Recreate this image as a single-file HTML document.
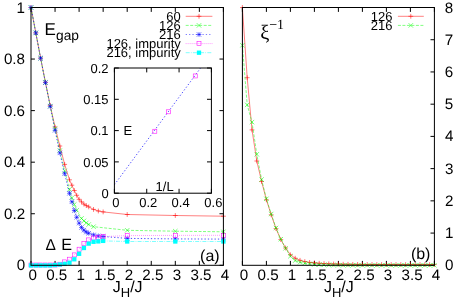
<!DOCTYPE html>
<html><head><meta charset="utf-8"><title>plot</title>
<style>html,body{margin:0;padding:0;background:#fff}svg{display:block}text{fill:#000}</style></head>
<body><svg width="463" height="298" viewBox="0 0 463 298">
<rect width="463" height="298" fill="#fff"/>
<filter id="idf" filterUnits="userSpaceOnUse" x="0" y="0" width="463" height="298"><feOffset dx="0" dy="0"/></filter><g filter="url(#idf)">
<line x1="31" y1="265.3" x2="31" y2="260.9" stroke="#000" stroke-width="1.0"/>
<line x1="31" y1="7.5" x2="31" y2="11.9" stroke="#000" stroke-width="1.0"/>
<line x1="55.05" y1="265.3" x2="55.05" y2="260.9" stroke="#000" stroke-width="1.0"/>
<line x1="55.05" y1="7.5" x2="55.05" y2="11.9" stroke="#000" stroke-width="1.0"/>
<line x1="79.1" y1="265.3" x2="79.1" y2="260.9" stroke="#000" stroke-width="1.0"/>
<line x1="79.1" y1="7.5" x2="79.1" y2="11.9" stroke="#000" stroke-width="1.0"/>
<line x1="103.15" y1="265.3" x2="103.15" y2="260.9" stroke="#000" stroke-width="1.0"/>
<line x1="103.15" y1="7.5" x2="103.15" y2="11.9" stroke="#000" stroke-width="1.0"/>
<line x1="127.2" y1="265.3" x2="127.2" y2="260.9" stroke="#000" stroke-width="1.0"/>
<line x1="127.2" y1="7.5" x2="127.2" y2="11.9" stroke="#000" stroke-width="1.0"/>
<line x1="151.25" y1="265.3" x2="151.25" y2="260.9" stroke="#000" stroke-width="1.0"/>
<line x1="151.25" y1="7.5" x2="151.25" y2="11.9" stroke="#000" stroke-width="1.0"/>
<line x1="175.3" y1="265.3" x2="175.3" y2="260.9" stroke="#000" stroke-width="1.0"/>
<line x1="175.3" y1="7.5" x2="175.3" y2="11.9" stroke="#000" stroke-width="1.0"/>
<line x1="199.35" y1="265.3" x2="199.35" y2="260.9" stroke="#000" stroke-width="1.0"/>
<line x1="199.35" y1="7.5" x2="199.35" y2="11.9" stroke="#000" stroke-width="1.0"/>
<line x1="223.4" y1="265.3" x2="223.4" y2="260.9" stroke="#000" stroke-width="1.0"/>
<line x1="223.4" y1="7.5" x2="223.4" y2="11.9" stroke="#000" stroke-width="1.0"/>
<line x1="31" y1="265.3" x2="34.9" y2="265.3" stroke="#000" stroke-width="1.0"/>
<line x1="223.4" y1="265.3" x2="219.5" y2="265.3" stroke="#000" stroke-width="1.0"/>
<line x1="31" y1="213.74" x2="34.9" y2="213.74" stroke="#000" stroke-width="1.0"/>
<line x1="223.4" y1="213.74" x2="219.5" y2="213.74" stroke="#000" stroke-width="1.0"/>
<line x1="31" y1="162.18" x2="34.9" y2="162.18" stroke="#000" stroke-width="1.0"/>
<line x1="223.4" y1="162.18" x2="219.5" y2="162.18" stroke="#000" stroke-width="1.0"/>
<line x1="31" y1="110.62" x2="34.9" y2="110.62" stroke="#000" stroke-width="1.0"/>
<line x1="223.4" y1="110.62" x2="219.5" y2="110.62" stroke="#000" stroke-width="1.0"/>
<line x1="31" y1="59.06" x2="34.9" y2="59.06" stroke="#000" stroke-width="1.0"/>
<line x1="223.4" y1="59.06" x2="219.5" y2="59.06" stroke="#000" stroke-width="1.0"/>
<line x1="31" y1="7.5" x2="34.9" y2="7.5" stroke="#000" stroke-width="1.0"/>
<line x1="223.4" y1="7.5" x2="219.5" y2="7.5" stroke="#000" stroke-width="1.0"/>
<clipPath id="c1"><rect x="28.0" y="4.5" width="198.4" height="263.8"/></clipPath>
<g clip-path="url(#c1)">
<polyline points="31,7.5 35.81,32.9 40.62,58.1 45.43,82.3 50.24,105.6 55.05,127 59.86,146 64.67,164.4 69.48,179.8 71.88,185.2 74.29,190.5 76.69,195.3 79.1,199.3 81.5,201.9 83.91,204.1 86.31,205.6 88.72,206.9 93.53,209.4 98.34,211 103.15,211.9 127.2,214.5 175.3,215.5 223.4,216.2" fill="none" stroke="#ff0000" stroke-width="0.5"/>
<path d="M28.6 7.5H33.4M31 5.1V9.9" stroke="#ff0000" stroke-width="0.55" fill="none"/>
<path d="M33.41 32.9H38.21M35.81 30.5V35.3" stroke="#ff0000" stroke-width="0.55" fill="none"/>
<path d="M38.22 58.1H43.02M40.62 55.7V60.5" stroke="#ff0000" stroke-width="0.55" fill="none"/>
<path d="M43.03 82.3H47.83M45.43 79.9V84.7" stroke="#ff0000" stroke-width="0.55" fill="none"/>
<path d="M47.84 105.6H52.64M50.24 103.2V108" stroke="#ff0000" stroke-width="0.55" fill="none"/>
<path d="M52.65 127H57.45M55.05 124.6V129.4" stroke="#ff0000" stroke-width="0.55" fill="none"/>
<path d="M57.46 146H62.26M59.86 143.6V148.4" stroke="#ff0000" stroke-width="0.55" fill="none"/>
<path d="M62.27 164.4H67.07M64.67 162V166.8" stroke="#ff0000" stroke-width="0.55" fill="none"/>
<path d="M67.08 179.8H71.88M69.48 177.4V182.2" stroke="#ff0000" stroke-width="0.55" fill="none"/>
<path d="M69.48 185.2H74.28M71.88 182.8V187.6" stroke="#ff0000" stroke-width="0.55" fill="none"/>
<path d="M71.89 190.5H76.69M74.29 188.1V192.9" stroke="#ff0000" stroke-width="0.55" fill="none"/>
<path d="M74.29 195.3H79.09M76.69 192.9V197.7" stroke="#ff0000" stroke-width="0.55" fill="none"/>
<path d="M76.7 199.3H81.5M79.1 196.9V201.7" stroke="#ff0000" stroke-width="0.55" fill="none"/>
<path d="M79.1 201.9H83.91M81.5 199.5V204.3" stroke="#ff0000" stroke-width="0.55" fill="none"/>
<path d="M81.51 204.1H86.31M83.91 201.7V206.5" stroke="#ff0000" stroke-width="0.55" fill="none"/>
<path d="M83.91 205.6H88.72M86.31 203.2V208" stroke="#ff0000" stroke-width="0.55" fill="none"/>
<path d="M86.32 206.9H91.12M88.72 204.5V209.3" stroke="#ff0000" stroke-width="0.55" fill="none"/>
<path d="M91.13 209.4H95.93M93.53 207V211.8" stroke="#ff0000" stroke-width="0.55" fill="none"/>
<path d="M95.94 211H100.74M98.34 208.6V213.4" stroke="#ff0000" stroke-width="0.55" fill="none"/>
<path d="M100.75 211.9H105.55M103.15 209.5V214.3" stroke="#ff0000" stroke-width="0.55" fill="none"/>
<path d="M124.8 214.5H129.6M127.2 212.1V216.9" stroke="#ff0000" stroke-width="0.55" fill="none"/>
<path d="M172.9 215.5H177.7M175.3 213.1V217.9" stroke="#ff0000" stroke-width="0.55" fill="none"/>
<path d="M221 216.2H225.8M223.4 213.8V218.6" stroke="#ff0000" stroke-width="0.55" fill="none"/>
<polyline points="31,7.5 35.81,32.9 40.62,58.2 45.43,82.5 50.24,106.1 55.05,128.7 59.86,150.5 64.67,170.9 69.48,189.3 71.88,197.8 74.29,204.5 76.69,210.3 81.5,218.4 83.91,220.9 86.31,222.9 88.72,224.5 93.53,226.7 127.2,230.3 175.3,231.2 223.4,231.8" fill="none" stroke="#00ff00" stroke-width="0.5" stroke-dasharray="3,1.5"/>
<path d="M28.8 5.3L33.2 9.7M28.8 9.7L33.2 5.3" stroke="#00ff00" stroke-width="0.55" fill="none"/>
<path d="M33.61 30.7L38.01 35.1M33.61 35.1L38.01 30.7" stroke="#00ff00" stroke-width="0.55" fill="none"/>
<path d="M38.42 56L42.82 60.4M38.42 60.4L42.82 56" stroke="#00ff00" stroke-width="0.55" fill="none"/>
<path d="M43.23 80.3L47.63 84.7M43.23 84.7L47.63 80.3" stroke="#00ff00" stroke-width="0.55" fill="none"/>
<path d="M48.04 103.9L52.44 108.3M48.04 108.3L52.44 103.9" stroke="#00ff00" stroke-width="0.55" fill="none"/>
<path d="M52.85 126.5L57.25 130.9M52.85 130.9L57.25 126.5" stroke="#00ff00" stroke-width="0.55" fill="none"/>
<path d="M57.66 148.3L62.06 152.7M57.66 152.7L62.06 148.3" stroke="#00ff00" stroke-width="0.55" fill="none"/>
<path d="M62.47 168.7L66.87 173.1M62.47 173.1L66.87 168.7" stroke="#00ff00" stroke-width="0.55" fill="none"/>
<path d="M67.28 187.1L71.68 191.5M67.28 191.5L71.68 187.1" stroke="#00ff00" stroke-width="0.55" fill="none"/>
<path d="M69.68 195.6L74.08 200M69.68 200L74.08 195.6" stroke="#00ff00" stroke-width="0.55" fill="none"/>
<path d="M72.09 202.3L76.49 206.7M72.09 206.7L76.49 202.3" stroke="#00ff00" stroke-width="0.55" fill="none"/>
<path d="M74.49 208.1L78.89 212.5M74.49 212.5L78.89 208.1" stroke="#00ff00" stroke-width="0.55" fill="none"/>
<path d="M79.3 216.2L83.7 220.6M79.3 220.6L83.7 216.2" stroke="#00ff00" stroke-width="0.55" fill="none"/>
<path d="M81.71 218.7L86.11 223.1M81.71 223.1L86.11 218.7" stroke="#00ff00" stroke-width="0.55" fill="none"/>
<path d="M84.11 220.7L88.52 225.1M84.11 225.1L88.52 220.7" stroke="#00ff00" stroke-width="0.55" fill="none"/>
<path d="M86.52 222.3L90.92 226.7M86.52 226.7L90.92 222.3" stroke="#00ff00" stroke-width="0.55" fill="none"/>
<path d="M91.33 224.5L95.73 228.9M91.33 228.9L95.73 224.5" stroke="#00ff00" stroke-width="0.55" fill="none"/>
<path d="M125 228.1L129.4 232.5M125 232.5L129.4 228.1" stroke="#00ff00" stroke-width="0.55" fill="none"/>
<path d="M173.1 229L177.5 233.4M173.1 233.4L177.5 229" stroke="#00ff00" stroke-width="0.55" fill="none"/>
<path d="M221.2 229.6L225.6 234M221.2 234L225.6 229.6" stroke="#00ff00" stroke-width="0.55" fill="none"/>
<polyline points="31,7.5 35.81,32.9 40.62,58.2 45.43,82.6 50.24,106.4 55.05,130.3 59.86,152.9 64.67,173.7 69.48,193.3 71.88,201.8 74.29,210.5 76.69,217.3 79.1,223.1 81.5,227.5 83.91,230.2 86.31,232.1 88.72,233.3 93.53,234.9 98.34,235.9 103.15,236.5 127.2,238.4 175.3,238.9 223.4,239.1" fill="none" stroke="#0000ff" stroke-width="0.7" stroke-dasharray="1.3,2.05"/>
<path d="M28.6 7.5H33.4M31 5.1V9.9" stroke="#0000ff" stroke-width="0.55" fill="none"/>
<path d="M28.8 5.3L33.2 9.7M28.8 9.7L33.2 5.3" stroke="#0000ff" stroke-width="0.55" fill="none"/>
<path d="M33.41 32.9H38.21M35.81 30.5V35.3" stroke="#0000ff" stroke-width="0.55" fill="none"/>
<path d="M33.61 30.7L38.01 35.1M33.61 35.1L38.01 30.7" stroke="#0000ff" stroke-width="0.55" fill="none"/>
<path d="M38.22 58.2H43.02M40.62 55.8V60.6" stroke="#0000ff" stroke-width="0.55" fill="none"/>
<path d="M38.42 56L42.82 60.4M38.42 60.4L42.82 56" stroke="#0000ff" stroke-width="0.55" fill="none"/>
<path d="M43.03 82.6H47.83M45.43 80.2V85" stroke="#0000ff" stroke-width="0.55" fill="none"/>
<path d="M43.23 80.4L47.63 84.8M43.23 84.8L47.63 80.4" stroke="#0000ff" stroke-width="0.55" fill="none"/>
<path d="M47.84 106.4H52.64M50.24 104V108.8" stroke="#0000ff" stroke-width="0.55" fill="none"/>
<path d="M48.04 104.2L52.44 108.6M48.04 108.6L52.44 104.2" stroke="#0000ff" stroke-width="0.55" fill="none"/>
<path d="M52.65 130.3H57.45M55.05 127.9V132.7" stroke="#0000ff" stroke-width="0.55" fill="none"/>
<path d="M52.85 128.1L57.25 132.5M52.85 132.5L57.25 128.1" stroke="#0000ff" stroke-width="0.55" fill="none"/>
<path d="M57.46 152.9H62.26M59.86 150.5V155.3" stroke="#0000ff" stroke-width="0.55" fill="none"/>
<path d="M57.66 150.7L62.06 155.1M57.66 155.1L62.06 150.7" stroke="#0000ff" stroke-width="0.55" fill="none"/>
<path d="M62.27 173.7H67.07M64.67 171.3V176.1" stroke="#0000ff" stroke-width="0.55" fill="none"/>
<path d="M62.47 171.5L66.87 175.9M62.47 175.9L66.87 171.5" stroke="#0000ff" stroke-width="0.55" fill="none"/>
<path d="M67.08 193.3H71.88M69.48 190.9V195.7" stroke="#0000ff" stroke-width="0.55" fill="none"/>
<path d="M67.28 191.1L71.68 195.5M67.28 195.5L71.68 191.1" stroke="#0000ff" stroke-width="0.55" fill="none"/>
<path d="M69.48 201.8H74.28M71.88 199.4V204.2" stroke="#0000ff" stroke-width="0.55" fill="none"/>
<path d="M69.68 199.6L74.08 204M69.68 204L74.08 199.6" stroke="#0000ff" stroke-width="0.55" fill="none"/>
<path d="M71.89 210.5H76.69M74.29 208.1V212.9" stroke="#0000ff" stroke-width="0.55" fill="none"/>
<path d="M72.09 208.3L76.49 212.7M72.09 212.7L76.49 208.3" stroke="#0000ff" stroke-width="0.55" fill="none"/>
<path d="M74.29 217.3H79.09M76.69 214.9V219.7" stroke="#0000ff" stroke-width="0.55" fill="none"/>
<path d="M74.49 215.1L78.89 219.5M74.49 219.5L78.89 215.1" stroke="#0000ff" stroke-width="0.55" fill="none"/>
<path d="M76.7 223.1H81.5M79.1 220.7V225.5" stroke="#0000ff" stroke-width="0.55" fill="none"/>
<path d="M76.9 220.9L81.3 225.3M76.9 225.3L81.3 220.9" stroke="#0000ff" stroke-width="0.55" fill="none"/>
<path d="M79.1 227.5H83.91M81.5 225.1V229.9" stroke="#0000ff" stroke-width="0.55" fill="none"/>
<path d="M79.3 225.3L83.7 229.7M79.3 229.7L83.7 225.3" stroke="#0000ff" stroke-width="0.55" fill="none"/>
<path d="M81.51 230.2H86.31M83.91 227.8V232.6" stroke="#0000ff" stroke-width="0.55" fill="none"/>
<path d="M81.71 228L86.11 232.4M81.71 232.4L86.11 228" stroke="#0000ff" stroke-width="0.55" fill="none"/>
<path d="M83.91 232.1H88.72M86.31 229.7V234.5" stroke="#0000ff" stroke-width="0.55" fill="none"/>
<path d="M84.11 229.9L88.52 234.3M84.11 234.3L88.52 229.9" stroke="#0000ff" stroke-width="0.55" fill="none"/>
<path d="M86.32 233.3H91.12M88.72 230.9V235.7" stroke="#0000ff" stroke-width="0.55" fill="none"/>
<path d="M86.52 231.1L90.92 235.5M86.52 235.5L90.92 231.1" stroke="#0000ff" stroke-width="0.55" fill="none"/>
<path d="M91.13 234.9H95.93M93.53 232.5V237.3" stroke="#0000ff" stroke-width="0.55" fill="none"/>
<path d="M91.33 232.7L95.73 237.1M91.33 237.1L95.73 232.7" stroke="#0000ff" stroke-width="0.55" fill="none"/>
<path d="M95.94 235.9H100.74M98.34 233.5V238.3" stroke="#0000ff" stroke-width="0.55" fill="none"/>
<path d="M96.14 233.7L100.54 238.1M96.14 238.1L100.54 233.7" stroke="#0000ff" stroke-width="0.55" fill="none"/>
<path d="M100.75 236.5H105.55M103.15 234.1V238.9" stroke="#0000ff" stroke-width="0.55" fill="none"/>
<path d="M100.95 234.3L105.35 238.7M100.95 238.7L105.35 234.3" stroke="#0000ff" stroke-width="0.55" fill="none"/>
<path d="M124.8 238.4H129.6M127.2 236V240.8" stroke="#0000ff" stroke-width="0.55" fill="none"/>
<path d="M125 236.2L129.4 240.6M125 240.6L129.4 236.2" stroke="#0000ff" stroke-width="0.55" fill="none"/>
<path d="M172.9 238.9H177.7M175.3 236.5V241.3" stroke="#0000ff" stroke-width="0.55" fill="none"/>
<path d="M173.1 236.7L177.5 241.1M173.1 241.1L177.5 236.7" stroke="#0000ff" stroke-width="0.55" fill="none"/>
<path d="M221 239.1H225.8M223.4 236.7V241.5" stroke="#0000ff" stroke-width="0.55" fill="none"/>
<path d="M221.2 236.9L225.6 241.3M221.2 241.3L225.6 236.9" stroke="#0000ff" stroke-width="0.55" fill="none"/>
<polyline points="31,265 35.81,265 40.62,265 45.43,265 50.24,265 55.05,265 59.86,264.2 64.67,261.9 69.48,259.2 74.29,254.9 79.1,249.2 83.91,243.7 88.72,239.9 93.53,238 98.34,237.3 103.15,236.6 127.2,235.6 175.3,235.4 223.4,235.3" fill="none" stroke="#ff00ff" stroke-width="0.5" stroke-dasharray="0.8,1.2"/>
<rect x="29" y="263" width="4" height="4" stroke="#ff00ff" stroke-width="0.55" fill="none"/>
<rect x="33.81" y="263" width="4" height="4" stroke="#ff00ff" stroke-width="0.55" fill="none"/>
<rect x="38.62" y="263" width="4" height="4" stroke="#ff00ff" stroke-width="0.55" fill="none"/>
<rect x="43.43" y="263" width="4" height="4" stroke="#ff00ff" stroke-width="0.55" fill="none"/>
<rect x="48.24" y="263" width="4" height="4" stroke="#ff00ff" stroke-width="0.55" fill="none"/>
<rect x="53.05" y="263" width="4" height="4" stroke="#ff00ff" stroke-width="0.55" fill="none"/>
<rect x="57.86" y="262.2" width="4" height="4" stroke="#ff00ff" stroke-width="0.55" fill="none"/>
<rect x="62.67" y="259.9" width="4" height="4" stroke="#ff00ff" stroke-width="0.55" fill="none"/>
<rect x="67.48" y="257.2" width="4" height="4" stroke="#ff00ff" stroke-width="0.55" fill="none"/>
<rect x="72.29" y="252.9" width="4" height="4" stroke="#ff00ff" stroke-width="0.55" fill="none"/>
<rect x="77.1" y="247.2" width="4" height="4" stroke="#ff00ff" stroke-width="0.55" fill="none"/>
<rect x="81.91" y="241.7" width="4" height="4" stroke="#ff00ff" stroke-width="0.55" fill="none"/>
<rect x="86.72" y="237.9" width="4" height="4" stroke="#ff00ff" stroke-width="0.55" fill="none"/>
<rect x="91.53" y="236" width="4" height="4" stroke="#ff00ff" stroke-width="0.55" fill="none"/>
<rect x="96.34" y="235.3" width="4" height="4" stroke="#ff00ff" stroke-width="0.55" fill="none"/>
<rect x="101.15" y="234.6" width="4" height="4" stroke="#ff00ff" stroke-width="0.55" fill="none"/>
<rect x="125.2" y="233.6" width="4" height="4" stroke="#ff00ff" stroke-width="0.55" fill="none"/>
<rect x="173.3" y="233.4" width="4" height="4" stroke="#ff00ff" stroke-width="0.55" fill="none"/>
<rect x="221.4" y="233.3" width="4" height="4" stroke="#ff00ff" stroke-width="0.55" fill="none"/>
<polyline points="31,265.4 35.81,265.4 40.62,265.4 45.43,265.4 50.24,265.4 55.05,265 59.86,264.5 64.67,263.9 69.48,262.7 74.29,259.3 79.1,253.8 83.91,248 88.72,243.6 93.53,241.8 98.34,241.4 103.15,240.9 127.2,241.5 175.3,241.5 223.4,241.5" fill="none" stroke="#00ffff" stroke-width="0.5" stroke-dasharray="4,1.2,0.8,1.2"/>
<rect x="28.85" y="263.25" width="4.3" height="4.3" fill="#00ffff"/>
<rect x="33.66" y="263.25" width="4.3" height="4.3" fill="#00ffff"/>
<rect x="38.47" y="263.25" width="4.3" height="4.3" fill="#00ffff"/>
<rect x="43.28" y="263.25" width="4.3" height="4.3" fill="#00ffff"/>
<rect x="48.09" y="263.25" width="4.3" height="4.3" fill="#00ffff"/>
<rect x="52.9" y="262.85" width="4.3" height="4.3" fill="#00ffff"/>
<rect x="57.71" y="262.35" width="4.3" height="4.3" fill="#00ffff"/>
<rect x="62.52" y="261.75" width="4.3" height="4.3" fill="#00ffff"/>
<rect x="67.33" y="260.55" width="4.3" height="4.3" fill="#00ffff"/>
<rect x="72.14" y="257.15" width="4.3" height="4.3" fill="#00ffff"/>
<rect x="76.95" y="251.65" width="4.3" height="4.3" fill="#00ffff"/>
<rect x="81.76" y="245.85" width="4.3" height="4.3" fill="#00ffff"/>
<rect x="86.57" y="241.45" width="4.3" height="4.3" fill="#00ffff"/>
<rect x="91.38" y="239.65" width="4.3" height="4.3" fill="#00ffff"/>
<rect x="96.19" y="239.25" width="4.3" height="4.3" fill="#00ffff"/>
<rect x="101" y="238.75" width="4.3" height="4.3" fill="#00ffff"/>
<rect x="125.05" y="239.35" width="4.3" height="4.3" fill="#00ffff"/>
<rect x="173.15" y="239.35" width="4.3" height="4.3" fill="#00ffff"/>
<rect x="221.25" y="239.35" width="4.3" height="4.3" fill="#00ffff"/>
</g>
<rect x="114.4" y="68" width="97" height="125.2" fill="#fff" stroke="none"/>
<polyline points="114.4,184.75 200.55,68" fill="none" stroke="#0000ff" stroke-width="0.7" stroke-dasharray="1.3,2.05"/>
<rect x="193.23" y="73.95" width="4" height="4" stroke="#ff00ff" stroke-width="0.55" fill="none"/>
<rect x="166.29" y="109.82" width="4" height="4" stroke="#ff00ff" stroke-width="0.55" fill="none"/>
<rect x="152.82" y="129.23" width="4" height="4" stroke="#ff00ff" stroke-width="0.55" fill="none"/>
<rect x="114.4" y="68" width="97" height="125.2" fill="none" stroke="#000" stroke-width="1.0"/>
<line x1="114.4" y1="193.2" x2="114.4" y2="188.8" stroke="#000" stroke-width="1.0"/>
<line x1="114.4" y1="68" x2="114.4" y2="72.4" stroke="#000" stroke-width="1.0"/>
<text transform="matrix(1 0 0.0006 1 0 0)" x="115.8" y="207.4" font-size="13" text-anchor="middle" font-family="Liberation Sans, sans-serif">0</text>
<line x1="146.73" y1="193.2" x2="146.73" y2="188.8" stroke="#000" stroke-width="1.0"/>
<line x1="146.73" y1="68" x2="146.73" y2="72.4" stroke="#000" stroke-width="1.0"/>
<text transform="matrix(1 0 0.0006 1 0 0)" x="148.13" y="207.4" font-size="13" text-anchor="middle" font-family="Liberation Sans, sans-serif">0.2</text>
<line x1="179.07" y1="193.2" x2="179.07" y2="188.8" stroke="#000" stroke-width="1.0"/>
<line x1="179.07" y1="68" x2="179.07" y2="72.4" stroke="#000" stroke-width="1.0"/>
<text transform="matrix(1 0 0.0006 1 0 0)" x="180.47" y="207.4" font-size="13" text-anchor="middle" font-family="Liberation Sans, sans-serif">0.4</text>
<line x1="211.4" y1="193.2" x2="211.4" y2="188.8" stroke="#000" stroke-width="1.0"/>
<line x1="211.4" y1="68" x2="211.4" y2="72.4" stroke="#000" stroke-width="1.0"/>
<text transform="matrix(1 0 0.0006 1 0 0)" x="213.3" y="207.4" font-size="13" text-anchor="middle" font-family="Liberation Sans, sans-serif">0.6</text>
<line x1="114.4" y1="193.2" x2="118.8" y2="193.2" stroke="#000" stroke-width="1.0"/>
<line x1="211.4" y1="193.2" x2="207" y2="193.2" stroke="#000" stroke-width="1.0"/>
<text transform="matrix(1 0 0.0006 1 0 0)" x="108.5" y="197.9" font-size="13" text-anchor="end" font-family="Liberation Sans, sans-serif">0</text>
<line x1="114.4" y1="161.9" x2="118.8" y2="161.9" stroke="#000" stroke-width="1.0"/>
<line x1="211.4" y1="161.9" x2="207" y2="161.9" stroke="#000" stroke-width="1.0"/>
<text transform="matrix(1 0 0.0006 1 0 0)" x="108.5" y="166.6" font-size="13" text-anchor="end" font-family="Liberation Sans, sans-serif">0.05</text>
<line x1="114.4" y1="130.6" x2="118.8" y2="130.6" stroke="#000" stroke-width="1.0"/>
<line x1="211.4" y1="130.6" x2="207" y2="130.6" stroke="#000" stroke-width="1.0"/>
<text transform="matrix(1 0 0.0006 1 0 0)" x="108.5" y="135.3" font-size="13" text-anchor="end" font-family="Liberation Sans, sans-serif">0.1</text>
<line x1="114.4" y1="99.3" x2="118.8" y2="99.3" stroke="#000" stroke-width="1.0"/>
<line x1="211.4" y1="99.3" x2="207" y2="99.3" stroke="#000" stroke-width="1.0"/>
<text transform="matrix(1 0 0.0006 1 0 0)" x="108.5" y="104" font-size="13" text-anchor="end" font-family="Liberation Sans, sans-serif">0.15</text>
<line x1="114.4" y1="68" x2="118.8" y2="68" stroke="#000" stroke-width="1.0"/>
<line x1="211.4" y1="68" x2="207" y2="68" stroke="#000" stroke-width="1.0"/>
<text transform="matrix(1 0 0.0006 1 0 0)" x="108.5" y="72.7" font-size="13" text-anchor="end" font-family="Liberation Sans, sans-serif">0.2</text>
<text transform="matrix(1 0 0.0006 1 0 0)" x="123.3" y="135.3" font-size="13" text-anchor="start" font-family="Liberation Sans, sans-serif">E</text>
<text transform="matrix(1 0 0.0006 1 0 0)" x="164.5" y="191.3" font-size="13" text-anchor="middle" font-family="Liberation Sans, sans-serif">1/L</text>
<rect x="31" y="7.5" width="192.4" height="257.8" fill="none" stroke="#000" stroke-width="1.0"/>
<text transform="matrix(1 0 0.0006 1 0 0)" x="32.5" y="279.6" font-size="15.2" text-anchor="middle" font-family="Liberation Sans, sans-serif">0</text>
<text transform="matrix(1 0 0.0006 1 0 0)" x="56.55" y="279.6" font-size="15.2" text-anchor="middle" font-family="Liberation Sans, sans-serif">0.5</text>
<text transform="matrix(1 0 0.0006 1 0 0)" x="80.6" y="279.6" font-size="15.2" text-anchor="middle" font-family="Liberation Sans, sans-serif">1</text>
<text transform="matrix(1 0 0.0006 1 0 0)" x="104.65" y="279.6" font-size="15.2" text-anchor="middle" font-family="Liberation Sans, sans-serif">1.5</text>
<text transform="matrix(1 0 0.0006 1 0 0)" x="128.7" y="279.6" font-size="15.2" text-anchor="middle" font-family="Liberation Sans, sans-serif">2</text>
<text transform="matrix(1 0 0.0006 1 0 0)" x="152.75" y="279.6" font-size="15.2" text-anchor="middle" font-family="Liberation Sans, sans-serif">2.5</text>
<text transform="matrix(1 0 0.0006 1 0 0)" x="176.8" y="279.6" font-size="15.2" text-anchor="middle" font-family="Liberation Sans, sans-serif">3</text>
<text transform="matrix(1 0 0.0006 1 0 0)" x="200.85" y="279.6" font-size="15.2" text-anchor="middle" font-family="Liberation Sans, sans-serif">3.5</text>
<text transform="matrix(1 0 0.0006 1 0 0)" x="224.9" y="279.6" font-size="15.2" text-anchor="middle" font-family="Liberation Sans, sans-serif">4</text>
<text transform="matrix(1 0 0.0006 1 0 0)" x="25" y="270.3" font-size="15.2" text-anchor="end" font-family="Liberation Sans, sans-serif">0</text>
<text transform="matrix(1 0 0.0006 1 0 0)" x="25" y="218.74" font-size="15.2" text-anchor="end" font-family="Liberation Sans, sans-serif">0.2</text>
<text transform="matrix(1 0 0.0006 1 0 0)" x="25" y="167.18" font-size="15.2" text-anchor="end" font-family="Liberation Sans, sans-serif">0.4</text>
<text transform="matrix(1 0 0.0006 1 0 0)" x="25" y="115.62" font-size="15.2" text-anchor="end" font-family="Liberation Sans, sans-serif">0.6</text>
<text transform="matrix(1 0 0.0006 1 0 0)" x="25" y="64.06" font-size="15.2" text-anchor="end" font-family="Liberation Sans, sans-serif">0.8</text>
<text transform="matrix(1 0 0.0006 1 0 0)" x="25" y="12.5" font-size="15.2" text-anchor="end" font-family="Liberation Sans, sans-serif">1</text>
<text transform="matrix(1 0 0.0006 1 0 0)" x="127.5" y="292" font-size="16" text-anchor="middle" font-family="Liberation Sans, sans-serif">J<tspan font-size="13" dy="5">H</tspan><tspan dy="-5">/J</tspan></text>
<text transform="matrix(1 0 0.0006 1 0 0)" x="44.6" y="34.6" font-size="17" font-family="Liberation Sans, sans-serif">E<tspan font-size="13.8" dy="5.2">gap</tspan></text>
<text transform="matrix(1 0 0.0006 1 0 0)" x="45.4" y="250.5" font-size="15.6" font-family="Liberation Sans, sans-serif">Δ</text>
<text transform="matrix(1 0 0.0006 1 0 0)" x="61.1" y="249.7" font-size="16.2" font-family="Liberation Sans, sans-serif">E</text>
<text transform="matrix(1 0 0.0006 1 0 0)" x="219.5" y="260.8" font-size="16" text-anchor="end" font-family="Liberation Sans, sans-serif">(a)</text>
<text transform="matrix(1 0 0.0006 1 0 0)" x="180.8" y="20.9" font-size="13" text-anchor="end" font-family="Liberation Sans, sans-serif">60</text>
<polyline points="185.7,16.3 212.4,16.3" fill="none" stroke="#ff0000" stroke-width="0.5"/>
<path d="M196.6 16.3H201.4M199 13.9V18.7" stroke="#ff0000" stroke-width="0.55" fill="none"/>
<text transform="matrix(1 0 0.0006 1 0 0)" x="180.8" y="30" font-size="13" text-anchor="end" font-family="Liberation Sans, sans-serif">126</text>
<polyline points="185.7,25.4 212.4,25.4" fill="none" stroke="#00ff00" stroke-width="0.5" stroke-dasharray="3,1.5"/>
<path d="M196.8 23.2L201.2 27.6M196.8 27.6L201.2 23.2" stroke="#00ff00" stroke-width="0.55" fill="none"/>
<text transform="matrix(1 0 0.0006 1 0 0)" x="180.8" y="39.1" font-size="13" text-anchor="end" font-family="Liberation Sans, sans-serif">216</text>
<polyline points="185.7,34.5 212.4,34.5" fill="none" stroke="#0000ff" stroke-width="0.5" stroke-dasharray="1.3,2.05"/>
<path d="M196.6 34.5H201.4M199 32.1V36.9" stroke="#0000ff" stroke-width="0.55" fill="none"/>
<path d="M196.8 32.3L201.2 36.7M196.8 36.7L201.2 32.3" stroke="#0000ff" stroke-width="0.55" fill="none"/>
<text transform="matrix(1 0 0.0006 1 0 0)" x="180.8" y="48.2" font-size="13" text-anchor="end" font-family="Liberation Sans, sans-serif">126, impurity</text>
<polyline points="185.7,43.6 212.4,43.6" fill="none" stroke="#ff00ff" stroke-width="0.5" stroke-dasharray="0.8,1.2"/>
<rect x="197" y="41.6" width="4" height="4" stroke="#ff00ff" stroke-width="0.55" fill="none"/>
<text transform="matrix(1 0 0.0006 1 0 0)" x="180.8" y="57.3" font-size="13" text-anchor="end" font-family="Liberation Sans, sans-serif">216, impurity</text>
<polyline points="185.7,52.7 212.4,52.7" fill="none" stroke="#00ffff" stroke-width="0.5" stroke-dasharray="4,1.2,0.8,1.2"/>
<rect x="196.85" y="50.55" width="4.3" height="4.3" fill="#00ffff"/>
<line x1="242.4" y1="265.3" x2="242.4" y2="260.9" stroke="#000" stroke-width="1.0"/>
<line x1="242.4" y1="7.5" x2="242.4" y2="11.9" stroke="#000" stroke-width="1.0"/>
<line x1="266.4" y1="265.3" x2="266.4" y2="260.9" stroke="#000" stroke-width="1.0"/>
<line x1="266.4" y1="7.5" x2="266.4" y2="11.9" stroke="#000" stroke-width="1.0"/>
<line x1="290.4" y1="265.3" x2="290.4" y2="260.9" stroke="#000" stroke-width="1.0"/>
<line x1="290.4" y1="7.5" x2="290.4" y2="11.9" stroke="#000" stroke-width="1.0"/>
<line x1="314.4" y1="265.3" x2="314.4" y2="260.9" stroke="#000" stroke-width="1.0"/>
<line x1="314.4" y1="7.5" x2="314.4" y2="11.9" stroke="#000" stroke-width="1.0"/>
<line x1="338.4" y1="265.3" x2="338.4" y2="260.9" stroke="#000" stroke-width="1.0"/>
<line x1="338.4" y1="7.5" x2="338.4" y2="11.9" stroke="#000" stroke-width="1.0"/>
<line x1="362.4" y1="265.3" x2="362.4" y2="260.9" stroke="#000" stroke-width="1.0"/>
<line x1="362.4" y1="7.5" x2="362.4" y2="11.9" stroke="#000" stroke-width="1.0"/>
<line x1="386.4" y1="265.3" x2="386.4" y2="260.9" stroke="#000" stroke-width="1.0"/>
<line x1="386.4" y1="7.5" x2="386.4" y2="11.9" stroke="#000" stroke-width="1.0"/>
<line x1="410.4" y1="265.3" x2="410.4" y2="260.9" stroke="#000" stroke-width="1.0"/>
<line x1="410.4" y1="7.5" x2="410.4" y2="11.9" stroke="#000" stroke-width="1.0"/>
<line x1="434.4" y1="265.3" x2="434.4" y2="260.9" stroke="#000" stroke-width="1.0"/>
<line x1="434.4" y1="7.5" x2="434.4" y2="11.9" stroke="#000" stroke-width="1.0"/>
<line x1="434.4" y1="265.3" x2="430.5" y2="265.3" stroke="#000" stroke-width="1.0"/>
<line x1="434.4" y1="233.08" x2="430.5" y2="233.08" stroke="#000" stroke-width="1.0"/>
<line x1="434.4" y1="200.85" x2="430.5" y2="200.85" stroke="#000" stroke-width="1.0"/>
<line x1="434.4" y1="168.62" x2="430.5" y2="168.62" stroke="#000" stroke-width="1.0"/>
<line x1="434.4" y1="136.4" x2="430.5" y2="136.4" stroke="#000" stroke-width="1.0"/>
<line x1="434.4" y1="104.18" x2="430.5" y2="104.18" stroke="#000" stroke-width="1.0"/>
<line x1="434.4" y1="71.95" x2="430.5" y2="71.95" stroke="#000" stroke-width="1.0"/>
<line x1="434.4" y1="39.72" x2="430.5" y2="39.72" stroke="#000" stroke-width="1.0"/>
<line x1="434.4" y1="7.5" x2="430.5" y2="7.5" stroke="#000" stroke-width="1.0"/>
<clipPath id="c2"><rect x="239.4" y="4.5" width="197.99999999999997" height="263.8"/></clipPath>
<g clip-path="url(#c2)">
<polyline points="242.4,7.5 247.2,77.7 252,129.9 256.8,161 261.6,181.5 266.4,199.8 271.2,214.8 276,228.6 280.8,239.6 285.6,248 290.4,254.8 295.2,258.2 300,260.3 304.8,261.6 309.6,262.4 314.4,262.9 319.2,263.28 324,263.57 328.8,263.8 333.6,263.97 338.4,264.11 343.2,264.22 348,264.3 352.8,264.37 357.6,264.42 362.4,264.46 367.2,264.49 372,264.52 376.8,264.53 381.6,264.55 386.4,264.56 391.2,264.57 396,264.58 400.8,264.58 405.6,264.59 410.4,264.59 415.2,264.59 420,264.59 424.8,264.59 429.6,264.6 434.4,264.6" fill="none" stroke="#ff0000" stroke-width="0.5"/>
<path d="M240 7.5H244.8M242.4 5.1V9.9" stroke="#ff0000" stroke-width="0.55" fill="none"/>
<path d="M244.8 77.7H249.6M247.2 75.3V80.1" stroke="#ff0000" stroke-width="0.55" fill="none"/>
<path d="M249.6 129.9H254.4M252 127.5V132.3" stroke="#ff0000" stroke-width="0.55" fill="none"/>
<path d="M254.4 161H259.2M256.8 158.6V163.4" stroke="#ff0000" stroke-width="0.55" fill="none"/>
<path d="M259.2 181.5H264M261.6 179.1V183.9" stroke="#ff0000" stroke-width="0.55" fill="none"/>
<path d="M264 199.8H268.8M266.4 197.4V202.2" stroke="#ff0000" stroke-width="0.55" fill="none"/>
<path d="M268.8 214.8H273.6M271.2 212.4V217.2" stroke="#ff0000" stroke-width="0.55" fill="none"/>
<path d="M273.6 228.6H278.4M276 226.2V231" stroke="#ff0000" stroke-width="0.55" fill="none"/>
<path d="M278.4 239.6H283.2M280.8 237.2V242" stroke="#ff0000" stroke-width="0.55" fill="none"/>
<path d="M283.2 248H288M285.6 245.6V250.4" stroke="#ff0000" stroke-width="0.55" fill="none"/>
<path d="M288 254.8H292.8M290.4 252.4V257.2" stroke="#ff0000" stroke-width="0.55" fill="none"/>
<path d="M292.8 258.2H297.6M295.2 255.8V260.6" stroke="#ff0000" stroke-width="0.55" fill="none"/>
<path d="M297.6 260.3H302.4M300 257.9V262.7" stroke="#ff0000" stroke-width="0.55" fill="none"/>
<path d="M302.4 261.6H307.2M304.8 259.2V264" stroke="#ff0000" stroke-width="0.55" fill="none"/>
<path d="M307.2 262.4H312M309.6 260V264.8" stroke="#ff0000" stroke-width="0.55" fill="none"/>
<path d="M312 262.9H316.8M314.4 260.5V265.3" stroke="#ff0000" stroke-width="0.55" fill="none"/>
<path d="M316.8 263.28H321.6M319.2 260.88V265.68" stroke="#ff0000" stroke-width="0.55" fill="none"/>
<path d="M321.6 263.57H326.4M324 261.17V265.97" stroke="#ff0000" stroke-width="0.55" fill="none"/>
<path d="M326.4 263.8H331.2M328.8 261.4V266.2" stroke="#ff0000" stroke-width="0.55" fill="none"/>
<path d="M331.2 263.97H336M333.6 261.57V266.37" stroke="#ff0000" stroke-width="0.55" fill="none"/>
<path d="M336 264.11H340.8M338.4 261.71V266.51" stroke="#ff0000" stroke-width="0.55" fill="none"/>
<path d="M340.8 264.22H345.6M343.2 261.82V266.62" stroke="#ff0000" stroke-width="0.55" fill="none"/>
<path d="M345.6 264.3H350.4M348 261.9V266.7" stroke="#ff0000" stroke-width="0.55" fill="none"/>
<path d="M350.4 264.37H355.2M352.8 261.97V266.77" stroke="#ff0000" stroke-width="0.55" fill="none"/>
<path d="M355.2 264.42H360M357.6 262.02V266.82" stroke="#ff0000" stroke-width="0.55" fill="none"/>
<path d="M360 264.46H364.8M362.4 262.06V266.86" stroke="#ff0000" stroke-width="0.55" fill="none"/>
<path d="M364.8 264.49H369.6M367.2 262.09V266.89" stroke="#ff0000" stroke-width="0.55" fill="none"/>
<path d="M369.6 264.52H374.4M372 262.12V266.92" stroke="#ff0000" stroke-width="0.55" fill="none"/>
<path d="M374.4 264.53H379.2M376.8 262.13V266.93" stroke="#ff0000" stroke-width="0.55" fill="none"/>
<path d="M379.2 264.55H384M381.6 262.15V266.95" stroke="#ff0000" stroke-width="0.55" fill="none"/>
<path d="M384 264.56H388.8M386.4 262.16V266.96" stroke="#ff0000" stroke-width="0.55" fill="none"/>
<path d="M388.8 264.57H393.6M391.2 262.17V266.97" stroke="#ff0000" stroke-width="0.55" fill="none"/>
<path d="M393.6 264.58H398.4M396 262.18V266.98" stroke="#ff0000" stroke-width="0.55" fill="none"/>
<path d="M398.4 264.58H403.2M400.8 262.18V266.98" stroke="#ff0000" stroke-width="0.55" fill="none"/>
<path d="M403.2 264.59H408M405.6 262.19V266.99" stroke="#ff0000" stroke-width="0.55" fill="none"/>
<path d="M408 264.59H412.8M410.4 262.19V266.99" stroke="#ff0000" stroke-width="0.55" fill="none"/>
<path d="M412.8 264.59H417.6M415.2 262.19V266.99" stroke="#ff0000" stroke-width="0.55" fill="none"/>
<path d="M417.6 264.59H422.4M420 262.19V266.99" stroke="#ff0000" stroke-width="0.55" fill="none"/>
<path d="M422.4 264.59H427.2M424.8 262.19V266.99" stroke="#ff0000" stroke-width="0.55" fill="none"/>
<path d="M427.2 264.6H432M429.6 262.2V267" stroke="#ff0000" stroke-width="0.55" fill="none"/>
<path d="M432 264.6H436.8M434.4 262.2V267" stroke="#ff0000" stroke-width="0.55" fill="none"/>
<polyline points="242.4,45.3 247.2,104.9 252,122.1 256.8,154.3 261.6,179.5 266.4,198.8 271.2,214 276,228 280.8,239.2 285.6,248.3 290.4,256.2 295.2,260.6 300,262.3 304.8,263.3 309.6,263.9 314.4,264.4 319.2,264.66 324,264.84 328.8,264.97 333.6,265.06 338.4,265.13 343.2,265.18 348,265.21 352.8,265.24 357.6,265.26 362.4,265.27 367.2,265.28 372,265.28 376.8,265.29 381.6,265.29 386.4,265.29 391.2,265.3 396,265.3 400.8,265.3 405.6,265.3 410.4,265.3 415.2,265.3 420,265.3 424.8,265.3 429.6,265.3 434.4,265.3" fill="none" stroke="#00ff00" stroke-width="0.5" stroke-dasharray="3,1.5"/>
<path d="M240.2 43.1L244.6 47.5M240.2 47.5L244.6 43.1" stroke="#00ff00" stroke-width="0.55" fill="none"/>
<path d="M245 102.7L249.4 107.1M245 107.1L249.4 102.7" stroke="#00ff00" stroke-width="0.55" fill="none"/>
<path d="M249.8 119.9L254.2 124.3M249.8 124.3L254.2 119.9" stroke="#00ff00" stroke-width="0.55" fill="none"/>
<path d="M254.6 152.1L259 156.5M254.6 156.5L259 152.1" stroke="#00ff00" stroke-width="0.55" fill="none"/>
<path d="M259.4 177.3L263.8 181.7M259.4 181.7L263.8 177.3" stroke="#00ff00" stroke-width="0.55" fill="none"/>
<path d="M264.2 196.6L268.6 201M264.2 201L268.6 196.6" stroke="#00ff00" stroke-width="0.55" fill="none"/>
<path d="M269 211.8L273.4 216.2M269 216.2L273.4 211.8" stroke="#00ff00" stroke-width="0.55" fill="none"/>
<path d="M273.8 225.8L278.2 230.2M273.8 230.2L278.2 225.8" stroke="#00ff00" stroke-width="0.55" fill="none"/>
<path d="M278.6 237L283 241.4M278.6 241.4L283 237" stroke="#00ff00" stroke-width="0.55" fill="none"/>
<path d="M283.4 246.1L287.8 250.5M283.4 250.5L287.8 246.1" stroke="#00ff00" stroke-width="0.55" fill="none"/>
<path d="M288.2 254L292.6 258.4M288.2 258.4L292.6 254" stroke="#00ff00" stroke-width="0.55" fill="none"/>
<path d="M293 258.4L297.4 262.8M293 262.8L297.4 258.4" stroke="#00ff00" stroke-width="0.55" fill="none"/>
<path d="M297.8 260.1L302.2 264.5M297.8 264.5L302.2 260.1" stroke="#00ff00" stroke-width="0.55" fill="none"/>
<path d="M302.6 261.1L307 265.5M302.6 265.5L307 261.1" stroke="#00ff00" stroke-width="0.55" fill="none"/>
<path d="M307.4 261.7L311.8 266.1M307.4 266.1L311.8 261.7" stroke="#00ff00" stroke-width="0.55" fill="none"/>
<path d="M312.2 262.2L316.6 266.6M312.2 266.6L316.6 262.2" stroke="#00ff00" stroke-width="0.55" fill="none"/>
<path d="M317 262.46L321.4 266.86M317 266.86L321.4 262.46" stroke="#00ff00" stroke-width="0.55" fill="none"/>
<path d="M321.8 262.64L326.2 267.04M321.8 267.04L326.2 262.64" stroke="#00ff00" stroke-width="0.55" fill="none"/>
<path d="M326.6 262.77L331 267.17M326.6 267.17L331 262.77" stroke="#00ff00" stroke-width="0.55" fill="none"/>
<path d="M331.4 262.86L335.8 267.26M331.4 267.26L335.8 262.86" stroke="#00ff00" stroke-width="0.55" fill="none"/>
<path d="M336.2 262.93L340.6 267.33M336.2 267.33L340.6 262.93" stroke="#00ff00" stroke-width="0.55" fill="none"/>
<path d="M341 262.98L345.4 267.38M341 267.38L345.4 262.98" stroke="#00ff00" stroke-width="0.55" fill="none"/>
<path d="M345.8 263.01L350.2 267.41M345.8 267.41L350.2 263.01" stroke="#00ff00" stroke-width="0.55" fill="none"/>
<path d="M350.6 263.04L355 267.44M350.6 267.44L355 263.04" stroke="#00ff00" stroke-width="0.55" fill="none"/>
<path d="M355.4 263.06L359.8 267.46M355.4 267.46L359.8 263.06" stroke="#00ff00" stroke-width="0.55" fill="none"/>
<path d="M360.2 263.07L364.6 267.47M360.2 267.47L364.6 263.07" stroke="#00ff00" stroke-width="0.55" fill="none"/>
<path d="M365 263.08L369.4 267.48M365 267.48L369.4 263.08" stroke="#00ff00" stroke-width="0.55" fill="none"/>
<path d="M369.8 263.08L374.2 267.48M369.8 267.48L374.2 263.08" stroke="#00ff00" stroke-width="0.55" fill="none"/>
<path d="M374.6 263.09L379 267.49M374.6 267.49L379 263.09" stroke="#00ff00" stroke-width="0.55" fill="none"/>
<path d="M379.4 263.09L383.8 267.49M379.4 267.49L383.8 263.09" stroke="#00ff00" stroke-width="0.55" fill="none"/>
<path d="M384.2 263.09L388.6 267.49M384.2 267.49L388.6 263.09" stroke="#00ff00" stroke-width="0.55" fill="none"/>
<path d="M389 263.1L393.4 267.5M389 267.5L393.4 263.1" stroke="#00ff00" stroke-width="0.55" fill="none"/>
<path d="M393.8 263.1L398.2 267.5M393.8 267.5L398.2 263.1" stroke="#00ff00" stroke-width="0.55" fill="none"/>
<path d="M398.6 263.1L403 267.5M398.6 267.5L403 263.1" stroke="#00ff00" stroke-width="0.55" fill="none"/>
<path d="M403.4 263.1L407.8 267.5M403.4 267.5L407.8 263.1" stroke="#00ff00" stroke-width="0.55" fill="none"/>
<path d="M408.2 263.1L412.6 267.5M408.2 267.5L412.6 263.1" stroke="#00ff00" stroke-width="0.55" fill="none"/>
<path d="M413 263.1L417.4 267.5M413 267.5L417.4 263.1" stroke="#00ff00" stroke-width="0.55" fill="none"/>
<path d="M417.8 263.1L422.2 267.5M417.8 267.5L422.2 263.1" stroke="#00ff00" stroke-width="0.55" fill="none"/>
<path d="M422.6 263.1L427 267.5M422.6 267.5L427 263.1" stroke="#00ff00" stroke-width="0.55" fill="none"/>
<path d="M427.4 263.1L431.8 267.5M427.4 267.5L431.8 263.1" stroke="#00ff00" stroke-width="0.55" fill="none"/>
<path d="M432.2 263.1L436.6 267.5M432.2 267.5L436.6 263.1" stroke="#00ff00" stroke-width="0.55" fill="none"/>
</g>
<rect x="242.4" y="7.5" width="192" height="257.8" fill="none" stroke="#000" stroke-width="1.0"/>
<text transform="matrix(1 0 0.0006 1 0 0)" x="243.9" y="279.6" font-size="15.2" text-anchor="middle" font-family="Liberation Sans, sans-serif">0</text>
<text transform="matrix(1 0 0.0006 1 0 0)" x="267.9" y="279.6" font-size="15.2" text-anchor="middle" font-family="Liberation Sans, sans-serif">0.5</text>
<text transform="matrix(1 0 0.0006 1 0 0)" x="291.9" y="279.6" font-size="15.2" text-anchor="middle" font-family="Liberation Sans, sans-serif">1</text>
<text transform="matrix(1 0 0.0006 1 0 0)" x="315.9" y="279.6" font-size="15.2" text-anchor="middle" font-family="Liberation Sans, sans-serif">1.5</text>
<text transform="matrix(1 0 0.0006 1 0 0)" x="339.9" y="279.6" font-size="15.2" text-anchor="middle" font-family="Liberation Sans, sans-serif">2</text>
<text transform="matrix(1 0 0.0006 1 0 0)" x="363.9" y="279.6" font-size="15.2" text-anchor="middle" font-family="Liberation Sans, sans-serif">2.5</text>
<text transform="matrix(1 0 0.0006 1 0 0)" x="387.9" y="279.6" font-size="15.2" text-anchor="middle" font-family="Liberation Sans, sans-serif">3</text>
<text transform="matrix(1 0 0.0006 1 0 0)" x="411.9" y="279.6" font-size="15.2" text-anchor="middle" font-family="Liberation Sans, sans-serif">3.5</text>
<text transform="matrix(1 0 0.0006 1 0 0)" x="435.9" y="279.6" font-size="15.2" text-anchor="middle" font-family="Liberation Sans, sans-serif">4</text>
<text transform="matrix(1 0 0.0006 1 0 0)" x="444.8" y="270.4" font-size="15.2" text-anchor="start" font-family="Liberation Sans, sans-serif">0</text>
<text transform="matrix(1 0 0.0006 1 0 0)" x="444.8" y="238.18" font-size="15.2" text-anchor="start" font-family="Liberation Sans, sans-serif">1</text>
<text transform="matrix(1 0 0.0006 1 0 0)" x="444.8" y="205.95" font-size="15.2" text-anchor="start" font-family="Liberation Sans, sans-serif">2</text>
<text transform="matrix(1 0 0.0006 1 0 0)" x="444.8" y="173.72" font-size="15.2" text-anchor="start" font-family="Liberation Sans, sans-serif">3</text>
<text transform="matrix(1 0 0.0006 1 0 0)" x="444.8" y="141.5" font-size="15.2" text-anchor="start" font-family="Liberation Sans, sans-serif">4</text>
<text transform="matrix(1 0 0.0006 1 0 0)" x="444.8" y="109.28" font-size="15.2" text-anchor="start" font-family="Liberation Sans, sans-serif">5</text>
<text transform="matrix(1 0 0.0006 1 0 0)" x="444.8" y="77.05" font-size="15.2" text-anchor="start" font-family="Liberation Sans, sans-serif">6</text>
<text transform="matrix(1 0 0.0006 1 0 0)" x="444.8" y="44.82" font-size="15.2" text-anchor="start" font-family="Liberation Sans, sans-serif">7</text>
<text transform="matrix(1 0 0.0006 1 0 0)" x="444.8" y="12.6" font-size="15.2" text-anchor="start" font-family="Liberation Sans, sans-serif">8</text>
<text transform="matrix(1 0 0.0006 1 0 0)" x="338.7" y="292" font-size="16" text-anchor="middle" font-family="Liberation Sans, sans-serif">J<tspan font-size="13" dy="5">H</tspan><tspan dy="-5">/J</tspan></text>
<text transform="matrix(1 0 0.0006 1 0 0)" x="430.3" y="258.7" font-size="16" text-anchor="end" font-family="Liberation Sans, sans-serif">(b)</text>
<text transform="matrix(1 0 0.0006 1 0 0)" x="260.3" y="39.0" font-size="20.5" font-family="Liberation Serif, serif">ξ</text>
<text transform="matrix(1 0 0.0006 1 0 0)" x="269.2" y="29.0" font-size="14" font-family="Liberation Serif, serif">−1</text>
<text transform="matrix(1 0 0.0006 1 0 0)" x="392.5" y="20.9" font-size="13" text-anchor="end" font-family="Liberation Sans, sans-serif">126</text>
<polyline points="397.9,16.3 423.8,16.3" fill="none" stroke="#ff0000" stroke-width="0.5"/>
<path d="M408.4 16.3H413.2M410.8 13.9V18.7" stroke="#ff0000" stroke-width="0.55" fill="none"/>
<text transform="matrix(1 0 0.0006 1 0 0)" x="392.5" y="30" font-size="13" text-anchor="end" font-family="Liberation Sans, sans-serif">216</text>
<polyline points="397.9,25.4 423.8,25.4" fill="none" stroke="#00ff00" stroke-width="0.5" stroke-dasharray="3,1.5"/>
<path d="M408.6 23.2L413 27.6M408.6 27.6L413 23.2" stroke="#00ff00" stroke-width="0.55" fill="none"/>
</g></svg></body></html>
